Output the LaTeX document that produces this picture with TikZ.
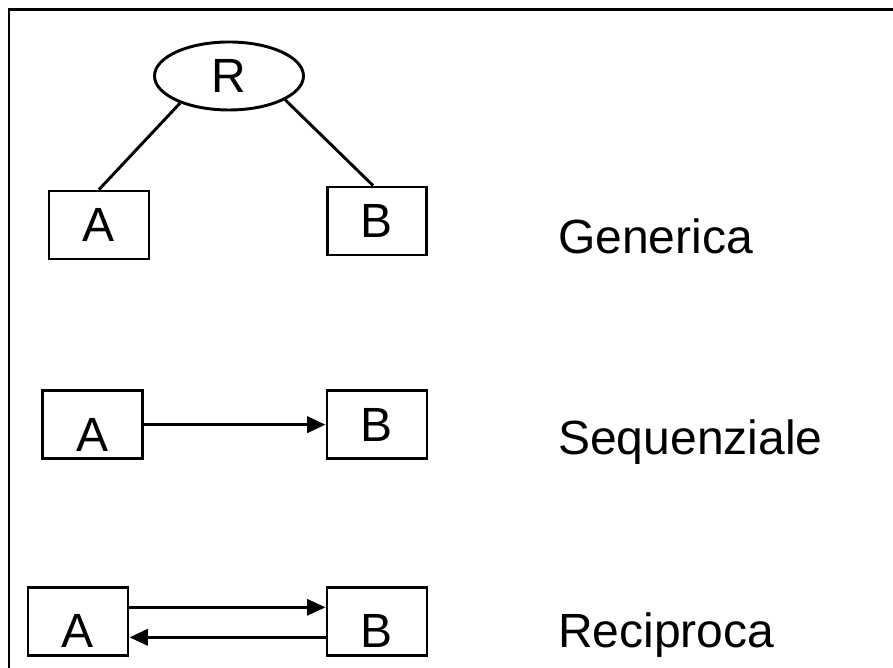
\documentclass[tikz,border=0pt]{standalone}
\usepackage{fontspec}
\setmainfont{Liberation Sans}
\usetikzlibrary{shapes,arrows.meta,positioning,calc}

\begin{document}
\begin{tikzpicture}[
    font=\fontsize{41}{48}\selectfont,
    box/.style={rectangle, draw, line width=2.5pt, minimum width=3cm, minimum height=2.04cm, inner sep=0pt},
    rel/.style={ellipse, draw, line width=2.5pt, minimum width=4.47cm, minimum height=2.04cm, inner sep=0pt},
    low/.style={text height=1.6cm},
    link/.style={-, line width=2.5pt},
    arrow/.style={-{Triangle[length=0.55cm, width=0.48cm]}, line width=3pt},
    kind/.style={anchor=base west}
]

\useasboundingbox (0,0) rectangle (26.79,20.04);

% Frame
\draw[line width=1.8pt] (0.27,0) -- (0.27,19.755) -- (26.79,19.755);

% Generica
\node[rel] (r) at (6.87,17.76) {R};
\node[box] (a1) at (2.97,13.29) {A};
\node[box, minimum width=2.95cm] (b1) at (11.31,13.41) {B};
\draw[link] (r.209) -- (a1.north);
\draw[link] (r.337) -- ([xshift=-0.12cm]b1.north);
\node[kind] (generica) at (16.62,12.42) {Generica};

% Sequenziale
\node[box, low] (a2) at (2.775,7.3) {A};
\node[box] (b2) at (11.31,7.3) {B};
\draw[arrow] (a2) -- (b2);
\node[kind] (sequenziale) at (16.62,6.39) {Sequenziale};

% Reciproca
\node[box, low] (a3) at (2.34,1.4) {A};
\node[box, low] (b3) at (11.31,1.4) {B};
\draw[arrow, line width=2.4pt] ([yshift=0.42cm]a3.east) -- ([yshift=0.42cm]b3.west);
\draw[arrow, line width=3pt] ([yshift=-0.48cm]b3.west) -- ([yshift=-0.48cm]a3.east);
\node[kind] (reciproca) at (16.62,0.6) {Reciproca};

\end{tikzpicture}
\end{document}
